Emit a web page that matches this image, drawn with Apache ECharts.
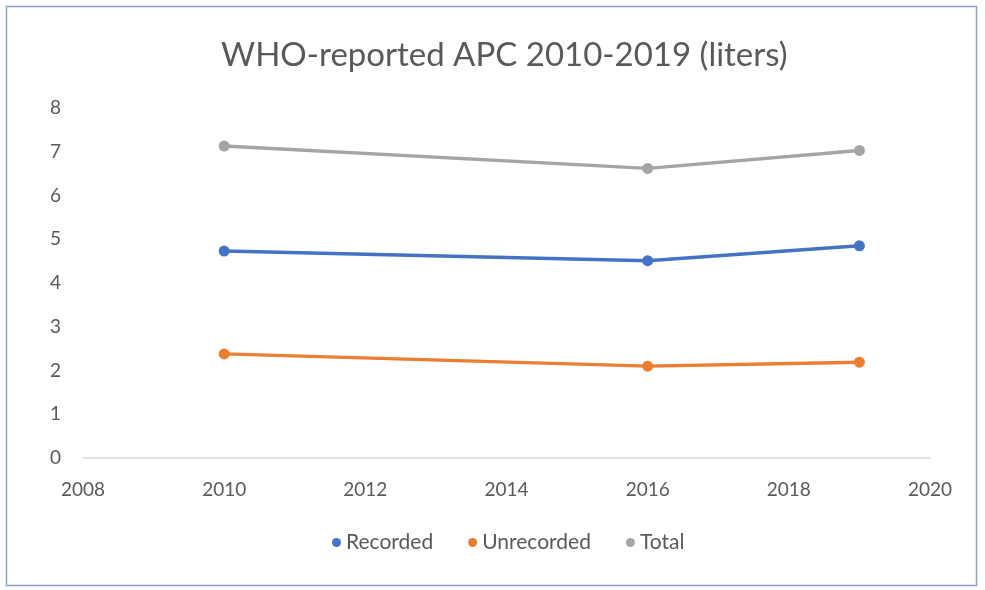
<!DOCTYPE html>
<html>
<head>
<meta charset="utf-8">
<script src="https://cdn.jsdelivr.net/npm/echarts@6/dist/echarts.min.js"></script>
<style>
  html, body { margin: 0; padding: 0; background: #ffffff; }
  #chart { width: 985px; height: 590px; }
</style>
</head>
<body>
<div id="chart"></div>
<script>
// Survey years and per-capita alcohol consumption (liters)
const years = [2010, 2016, 2019];
const recorded = [4.73, 4.51, 4.85];
const unrecorded = [2.38, 2.10, 2.19];
const total = [7.13, 6.62, 7.03];

const seriesNames = ['Recorded', 'Unrecorded', 'Total'];
const seriesColors = ['#4472C4', '#ED7D31', '#A5A5A5'];
const seriesValues = [recorded, unrecorded, total];

const textColor = '#595959';
const fontFamily = 'Lato, "Open Sans", sans-serif';

const chart = echarts.init(document.getElementById('chart'));

chart.setOption({
  backgroundColor: '#ffffff',
  animation: false,
  title: {
    text: 'WHO-reported APC 2010-2019 (liters)',
    left: 216,
    top: 34,
    textStyle: { color: textColor, fontSize: 33, fontWeight: 'normal', fontFamily: fontFamily }
  },
  legend: {
    data: seriesNames,
    bottom: 32,
    left: 327,
    icon: 'circle',
    itemWidth: 9,
    itemHeight: 9,
    itemGap: 35,
    textStyle: { color: textColor, fontSize: 21, fontFamily: fontFamily }
  },
  graphic: [{
    type: 'rect',
    shape: { x: 6.5, y: 6.5, width: 970, height: 579 },
    style: { fill: 'none', stroke: '#8aa4c6', lineWidth: 1.5 },
    silent: true
  }],
  grid: { left: 83, right: 55, top: 108, bottom: 132 },
  xAxis: {
    type: 'value',
    min: 2008,
    max: 2020,
    interval: 2,
    axisLine: { show: true, lineStyle: { color: '#d9d9d9', width: 1.5 } },
    axisTick: { show: false },
    splitLine: { show: false },
    axisLabel: {
      color: textColor, fontSize: 19, fontFamily: fontFamily, margin: 22,
      formatter: v => String(v)
    }
  },
  yAxis: {
    type: 'value',
    min: 0,
    max: 8,
    interval: 1,
    axisLine: { show: false },
    axisTick: { show: false },
    splitLine: { show: false },
    axisLabel: { color: textColor, fontSize: 19, fontFamily: fontFamily, margin: 22 }
  },
  series: seriesNames.map((name, i) => ({
    name: name,
    type: 'line',
    data: years.map((y, j) => [y, seriesValues[i][j]]),
    symbol: 'circle',
    symbolSize: 11,
    itemStyle: { color: seriesColors[i] },
    lineStyle: { color: seriesColors[i], width: 3.5 }
  }))
});
</script>
</body>
</html>
